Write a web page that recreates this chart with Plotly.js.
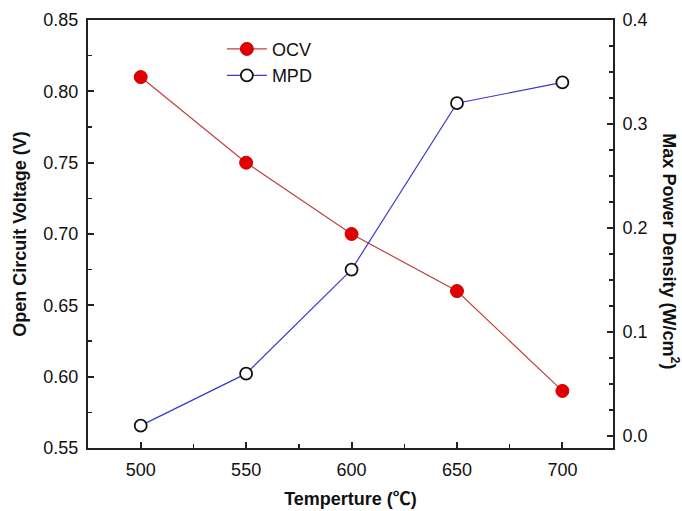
<!DOCTYPE html>
<html><head><meta charset="utf-8">
<script src="https://cdn.plot.ly/plotly-3.0.1.min.js"></script>
<style>html,body{margin:0;padding:0;background:#fff}#chart{width:682px;height:511px}</style>
</head><body><div id="chart"></div>
<script>
const temperature = [500, 550, 600, 650, 700];
const ocv = [0.81, 0.75, 0.70, 0.66, 0.59];
const mpd = [0.01, 0.06, 0.16, 0.32, 0.34];

const fam = 'Liberation Sans, Arial, sans-serif';
const tickFont = {family: fam, size: 18, color: '#111'};
const titleFont = {family: fam, size: 18, color: '#111'};
const traces = [
  {x: temperature, y: ocv, name: 'OCV', type: 'scatter', mode: 'lines+markers',
   line: {color: '#c04040', width: 1.2},
   marker: {color: '#e00000', size: 13, line: {color: '#d00000', width: 1}}},
  {x: temperature, y: mpd, name: 'MPD', type: 'scatter', mode: 'lines+markers', yaxis: 'y2',
   line: {color: '#3a3ad0', width: 1.2},
   marker: {color: '#fff', size: 12, symbol: 'circle', line: {color: '#111', width: 1.8}}}
];
const layout = {
  width: 682, height: 511,
  margin: {l: 88, r: 69, t: 20, b: 63},
  paper_bgcolor: '#fff', plot_bgcolor: '#fff',
  font: tickFont,
  showlegend: true,
  legend: {x: 0.255, y: 0.975, xanchor: 'left', yanchor: 'top', bgcolor: 'rgba(0,0,0,0)',
           font: {family: fam, size: 18, color: '#111'}, tracegroupgap: 0, itemwidth: 40},
  xaxis: {range: [475, 724], tickvals: temperature, ticktext: temperature.map(String),
          showgrid: false, zeroline: false, showline: true, mirror: true, linecolor: '#222', linewidth: 2,
          ticks: 'inside', ticklen: 6, tickwidth: 2, tickcolor: '#222',
          minor: {dtick: 25, tick0: 475, ticks: 'inside', ticklen: 4, tickwidth: 1.5, tickcolor: '#222'},
          tickfont: tickFont, ticklabelstandoff: 4,
          title: {text: "<b>Temperture (<span style='font-family:Noto Sans CJK SC'>℃</span>)</b>", font: titleFont, standoff: 14}},
  yaxis: {range: [0.55, 0.85], tickvals: [0.55, 0.60, 0.65, 0.70, 0.75, 0.80, 0.85], tickformat: '.2f',
          showgrid: false, zeroline: false, showline: true, linecolor: '#222', linewidth: 2,
          ticks: 'inside', ticklen: 6, tickwidth: 2, tickcolor: '#222',
          minor: {dtick: 0.025, tick0: 0.55, ticks: 'inside', ticklen: 4, tickwidth: 1.5, tickcolor: '#222'},
          tickfont: tickFont, ticklabelstandoff: 4,
          title: {text: '<b>Open Circuit Voltage (V)</b>', font: titleFont, standoff: 12}},
  yaxis2: {overlaying: 'y', side: 'right', range: [-0.0115, 0.4], tickvals: [0, 0.1, 0.2, 0.3, 0.4], tickformat: '.1f',
           showgrid: false, zeroline: false, showline: true, linecolor: '#222', linewidth: 2,
           ticks: 'inside', ticklen: 6, tickwidth: 2, tickcolor: '#222',
           minor: {dtick: 0.025, tick0: 0, ticks: 'inside', ticklen: 4, tickwidth: 1.5, tickcolor: '#222'},
           tickfont: tickFont, ticklabelstandoff: 4},
  annotations: [{text: '<b>Max Power Density (W/cm<sup>2</sup>)</b>', textangle: 90,
                 xref: 'paper', yref: 'paper', x: 1.11, y: 0.46, xanchor: 'center', yanchor: 'middle',
                 showarrow: false, font: titleFont}]
};
Plotly.newPlot('chart', traces, layout, {displayModeBar: false, staticPlot: true});
</script></body></html>
